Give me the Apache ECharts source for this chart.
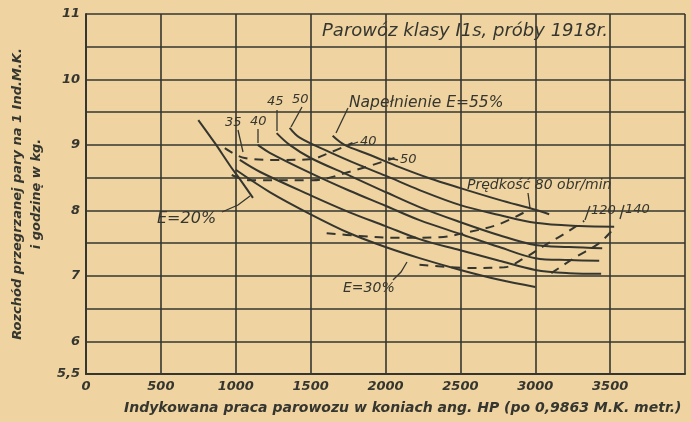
<!DOCTYPE html>
<html>
<head>
<meta charset="utf-8">
<script src="https://cdn.jsdelivr.net/npm/echarts@6/dist/echarts.min.js"></script>
<style>
  html, body { margin: 0; padding: 0; background: #efd3a0; }
  #chart { width: 691px; height: 422px; }
</style>
</head>
<body>
<div id="chart"></div>
<script>
// napełnienie E (linie ciągłe): [HP, kg]
const e20 = [[750, 9.38], [860, 9.03], [960, 8.69], [1045, 8.42], [1115, 8.19]];
const e30 = [[1000, 8.62], [1227, 8.28], [1500, 7.94], [1760, 7.65], [2000, 7.44], [2227, 7.27], [2500, 7.09], [2760, 6.94], [3000, 6.83]];
const e35 = [[1027, 8.77], [1160, 8.59], [1500, 8.23], [1760, 7.97], [2000, 7.76], [2227, 7.56], [2500, 7.39], [2760, 7.23], [3000, 7.09], [3227, 7.04], [3440, 7.03]];
const e40 = [[1147, 9.0], [1227, 8.88], [1500, 8.57], [1760, 8.3], [2000, 8.07], [2227, 7.85], [2500, 7.64], [2760, 7.44], [3000, 7.27], [3227, 7.24], [3427, 7.23]];
const e45 = [[1273, 9.18], [1360, 9.0], [1500, 8.8], [1760, 8.53], [2000, 8.28], [2227, 8.05], [2500, 7.82], [2760, 7.62], [3000, 7.47], [3227, 7.44], [3447, 7.42]];
const e50 = [[1360, 9.26], [1427, 9.11], [1627, 8.89], [1827, 8.69], [2000, 8.53], [2227, 8.31], [2500, 8.08], [2760, 7.93], [3000, 7.81], [3293, 7.76], [3527, 7.75]];
const e55 = [[1647, 9.14], [1727, 9.0], [1893, 8.85], [2093, 8.66], [2293, 8.49], [2500, 8.34], [2760, 8.16], [3000, 8.01], [3093, 7.94]];

// prędkość obr/min (linie przerywane)
const v40 = [[927, 8.95], [1060, 8.8], [1293, 8.77], [1493, 8.78], [1627, 8.88], [1780, 9.03]];
const v50 = [[973, 8.54], [1093, 8.46], [1513, 8.46], [1760, 8.59], [2060, 8.8]];
const v80 = [[1607, 7.65], [1827, 7.61], [2093, 7.58], [2360, 7.59], [2560, 7.67], [2760, 7.79], [2960, 8.01]];
const v120 = [[2227, 7.17], [2560, 7.12], [2793, 7.13], [2927, 7.27], [3060, 7.46], [3193, 7.64], [3327, 7.84]];
const v140 = [[3107, 7.04], [3273, 7.29], [3427, 7.5], [3527, 7.73]];

const yTickLabels = [5.5, 6, 7, 8, 9, 10, 11];
const xTickLabels = [0, 500, 1000, 1500, 2000, 2500, 3000, 3500];

const ink = '#35362f';
const hand = 'DejaVu Sans';

let myChart = echarts.init(document.getElementById('chart'), null, { renderer: 'canvas' });

const solid = [e20, e30, e35, e40, e45, e50, e55].map(d => ({
  type: 'line', data: d, smooth: 0.35, symbol: 'none', silent: true,
  lineStyle: { color: ink, width: 2 }
}));
const dashed = [v40, v50, v80, v120, v140].map(d => ({
  type: 'line', data: d, smooth: 0.35, symbol: 'none', silent: true,
  lineStyle: { color: ink, width: 2, type: [9, 7] }
}));

function txt(x, y, s, size, bold) {
  return {
    type: 'text', x: x, y: y, z: 10,
    style: { text: s, fill: ink, font: 'italic ' + (bold ? 'bold ' : '') + size + 'px "' + hand + '"', textVerticalAlign: 'middle' }
  };
}
function lead(pts) {
  return { type: 'polyline', z: 10, shape: { points: pts }, style: { stroke: ink, lineWidth: 1.3, fill: null } };
}

myChart.setOption({
  backgroundColor: '#efd3a0',
  animation: false,
  grid: { left: 86, right: 6, top: 14, bottom: 48, containLabel: false, outerBoundsMode: 'none' },
  xAxis: {
    type: 'value', min: 0, max: 4000, interval: 500,
    axisLine: { lineStyle: { color: ink, width: 2 } },
    axisTick: { show: false },
    splitLine: { lineStyle: { color: ink, width: 1.6 } },
    axisLabel: {
      color: ink, fontStyle: 'italic', fontWeight: 'bold', fontSize: 13, fontFamily: hand, margin: 6,
      formatter: v => xTickLabels.includes(v) ? String(v) : ''
    }
  },
  yAxis: {
    type: 'value', min: 5.5, max: 11, interval: 0.5,
    axisLine: { show: true, lineStyle: { color: ink, width: 2 } },
    axisTick: { show: false },
    splitLine: { lineStyle: { color: ink, width: 1.6 } },
    axisLabel: {
      color: ink, fontStyle: 'italic', fontWeight: 'bold', fontSize: 13, fontFamily: hand, margin: 6,
      formatter: v => yTickLabels.includes(v) ? String(v).replace('.', ',') : ''
    },
    name: 'Rozchód przegrzanej pary na 1 Ind.M.K.\ni godzinę w kg.',
    nameLocation: 'middle', nameRotate: 90, nameGap: 36,
    nameTextStyle: { color: ink, fontStyle: 'italic', fontWeight: 'bold', fontSize: 13, fontFamily: hand, lineHeight: 19, align: 'center' }
  },
  graphic: [
    txt(322, 31, 'Parowóz klasy I1s, próby 1918r.', 18, false),
    txt(349, 103, 'Napełnienie E=55%', 15.5, false),
    lead([[348, 108], [336, 133]]),
    txt(225, 123, '35', 13, false), lead([[238, 130], [243, 152]]),
    txt(250, 122, '40', 13, false), lead([[258, 129], [258, 143]]),
    txt(267, 102, '45', 13, false), lead([[277, 110], [277, 131]]),
    txt(292, 100, '50', 13, false), lead([[302, 107], [291, 127]]),
    txt(360, 142, '40', 13, false), lead([[358, 142], [347, 146]]),
    txt(400, 160, '50', 13, false), lead([[398, 160], [388, 158]]),
    txt(467, 185, 'Prędkość 80 obr/min', 14, false), lead([[528, 193], [530, 208]]),
    txt(591, 211, '120', 13, false), lead([[590, 206], [585, 220]]),
    txt(625, 210, '140', 13, false), lead([[624, 205], [620, 219]]),
    txt(157, 219, 'E=20%', 16, false), lead([[222, 212], [238, 205], [250, 196]]),
    txt(343, 288, 'E=30%', 14, false), lead([[393, 280], [401, 272], [407, 262]]),
    txt(124, 408, 'Indykowana praca parowozu w koniach ang. HP (po 0,9863 M.K. metr.)', 14, true)
  ],
  series: solid.concat(dashed)
});

window.addEventListener('resize', () => {
  myChart.resize();
});
</script>
</body>
</html>
